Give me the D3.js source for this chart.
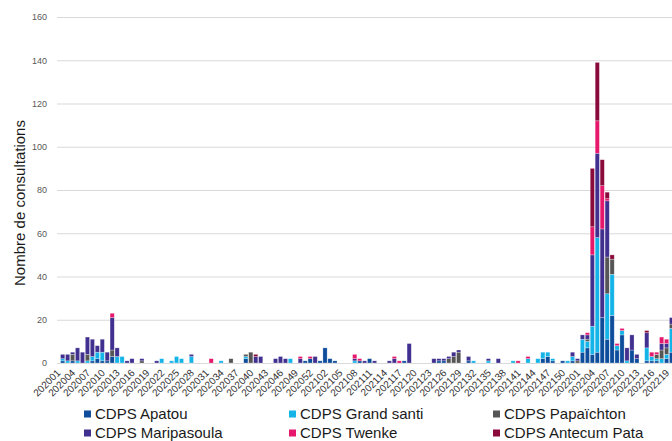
<!DOCTYPE html>
<html>
<head>
<meta charset="utf-8">
<script src="https://cdn.jsdelivr.net/npm/d3@7"></script>
<style>
body { margin: 0; background: #fff; }
svg { display: block; font-family: "Liberation Sans", Arial, sans-serif; }
</style>
</head>
<body>
<div id="chart"></div>
<script>
// weeks: 2020 has 53 ISO weeks, 2021 has 52, the picture stops at 2022 week 19
const yearWeeks = [[2020, 53], [2021, 52], [2022, 19]];
const weeks = yearWeeks.flatMap(([y, n]) => d3.range(1, n + 1).map(w => y + String(w).padStart(2, "0")));

const stations = ["CDPS Apatou", "CDPS Grand santi", "CDPS Papaïchton", "CDPS Maripasoula", "CDPS Twenke", "CDPS Antecum Pata"];
const colours = ["#0e4d9c", "#15b4e8", "#555555", "#41308f", "#e6186b", "#8a0b3b"];
const yTicks = [0, 20, 40, 60, 80, 100, 120, 140, 160];

// one value per week, rows = 2020 / 2021 / 2022
const apatou = [
  1,0,1,0,0,0,1,2,1,1, 3,0,0,0,0,0,0,0,0,0, 0,0,0,0,0,0,0,0,0,0, 0,0,0,0,0,0,0,2,0,0, 0,0,0,0,0,0,0,0,0,1, 2,0,1,
  7,2,1,0,0,0,0,1,0,2, 0,0,0,0,0,0,1,0,0,0, 0,0,0,1,1,0,0,0,0,1, 0,0,0,0,0,0,0,0,0,0, 0,0,0,0,2,3,1,0,1,0, 1,0,
  5,7,4,5,21,11,22,6,13,0, 6,2,0,1,1,1,0,2,5
];
const grandSanti = [
  1,1,0,1,0,1,2,3,4,0, 0,3,3,0,0,0,0,0,0,0, 2,0,1,3,2,0,3,0,0,0, 0,0,1,0,0,0,0,1,0,0, 0,0,0,0,0,0,2,0,0,0, 0,0,0,
  0,0,0,0,0,0,1,0,0,0, 0,0,0,0,0,0,0,0,0,0, 0,0,0,0,0,0,0,0,0,0, 1,0,0,1,0,0,0,0,1,0, 0,2,0,2,3,2,1,0,0,1, 2,0,
  6,3,13,53,0,21,19,2,2,1, 0,0,0,6,2,1,2,2,11
];
const papaichton = [
  0,0,3,0,0,3,0,0,0,0, 3,0,0,0,0,0,1,0,0,0, 0,0,0,0,0,0,0,0,0,0, 0,0,0,0,2,0,0,1,5,0, 0,0,0,0,0,0,0,0,0,0, 0,0,0,
  0,0,0,0,0,0,0,0,0,0, 0,0,0,0,0,0,0,0,0,0, 0,0,0,0,0,2,3,5,0,0, 0,0,0,0,0,0,0,0,0,0, 0,0,0,0,0,0,0,0,0,0, 0,1,
  0,1,0,0,0,17,7,0,0,0, 0,0,0,0,0,2,4,3,2
];
const maripasoula = [
  2,3,1,6,5,8,8,3,6,4, 15,4,0,1,2,0,1,0,0,1, 0,0,0,0,0,0,1,0,0,0, 0,0,0,0,0,0,0,0,0,3, 3,0,0,2,3,2,0,0,2,0, 0,3,0,
  0,0,0,0,0,0,1,0,1,0, 1,0,0,1,2,0,0,9,0,0, 0,0,2,1,1,1,2,1,0,2, 0,0,0,1,0,2,0,0,0,0, 0,0,0,0,0,0,0,0,0,0, 2,1,
  2,2,33,39,41,26,0,0,0,6, 7,2,0,7,0,0,3,2,3
];
const twenke = [
  0,0,0,0,0,0,0,0,0,0, 2,0,0,0,0,0,0,0,0,0, 0,0,0,0,0,0,0,0,0,0, 2,0,0,0,0,0,0,0,0,0, 0,0,0,0,0,0,0,0,1,0, 1,0,0,
  0,0,0,0,0,0,2,1,0,0, 0,0,0,0,1,1,0,0,0,0, 0,0,0,0,0,0,0,0,0,0, 0,0,0,0,0,0,0,0,0,1, 0,1,0,0,0,0,0,0,0,0, 0,0,
  0,1,13,15,20,1,0,1,1,0, 0,0,0,0,2,1,3,2,0
];
const antecumPata = [
  0,0,0,0,0,0,0,0,0,0, 0,0,0,0,0,0,0,0,0,0, 0,0,0,0,0,0,0,0,0,0, 0,0,0,0,0,0,0,0,0,1, 0,0,0,0,0,0,0,0,0,0, 0,0,0,
  0,0,0,0,0,0,0,0,0,0, 0,0,0,0,0,0,0,0,0,0, 0,0,0,0,0,0,0,0,0,0, 0,0,0,0,0,0,0,0,0,0, 0,0,0,0,0,0,0,0,0,0, 0,0,
  0,0,27,27,12,3,2,0,0,0, 0,0,0,1,0,0,0,0,0
];
const series = [apatou, grandSanti, papaichton, maripasoula, twenke, antecumPata];

const width = 672, height = 441;
const plotLeft = 57, plotTop = 17, plotBottom = 363, step = 4.95, firstX = 60.2;

const rows = weeks.map((w, i) => {
  const r = { week: w };
  stations.forEach((s, k) => { r[s] = series[k][i]; });
  return r;
});

const svg = d3.select("#chart").append("svg")
  .attr("width", width)
  .attr("height", height);

const x = d3.scaleBand()
  .domain(weeks)
  .range([firstX, firstX + weeks.length * step])
  .paddingInner(0.15)
  .paddingOuter(0.075);

const y = d3.scaleLinear()
  .domain([0, 160])
  .range([plotBottom, plotTop]);

const colour = d3.scaleOrdinal().domain(stations).range(colours);

// y axis with gridlines
const yAxis = svg.append("g")
  .attr("transform", "translate(" + plotLeft + ",0)")
  .call(d3.axisLeft(y).tickValues(yTicks).tickSize(-(width - plotLeft)).tickPadding(10));
yAxis.select(".domain").remove();
yAxis.selectAll(".tick line").attr("stroke", "#d9d9d9").attr("stroke-width", 1);
yAxis.selectAll(".tick text")
  .attr("fill", "#595959")
  .style("font-size", "9px")
  .style("font-family", "'Liberation Sans', Arial, sans-serif");

// stacked bars
const stacked = d3.stack().keys(stations)(rows);
svg.append("g").selectAll("g")
  .data(stacked)
  .join("g")
    .attr("fill", d => colour(d.key))
  .selectAll("rect")
  .data(d => d.filter(p => p[1] - p[0] > 0))
  .join("rect")
    .attr("x", p => x(p.data.week))
    .attr("y", p => y(p[1]))
    .attr("width", x.bandwidth())
    .attr("height", p => y(p[0]) - y(p[1]))
    .attr("stroke", "rgba(255,255,255,0.45)")
    .attr("stroke-width", 0.6);

// x axis: every third week label, rotated
const xAxis = svg.append("g")
  .attr("transform", "translate(0," + plotBottom + ")")
  .call(d3.axisBottom(x).tickValues(weeks.filter((d, i) => i % 3 === 0)).tickSize(0).tickPadding(0));
xAxis.select(".domain").remove();
xAxis.selectAll(".tick text")
  .attr("fill", "#333")
  .style("font-size", "10px")
  .style("font-family", "'Liberation Sans', Arial, sans-serif")
  .attr("text-anchor", "end")
  .attr("y", 0)
  .attr("dy", "0.35em")
  .attr("transform", "translate(-4,8) rotate(-45)");

// y title
svg.append("text")
  .attr("transform", "translate(20,203) rotate(-90)")
  .attr("text-anchor", "middle")
  .attr("dy", "0.35em")
  .attr("fill", "#1a1a1a")
  .style("font-size", "15px")
  .text("Nombre de consultations");

// legend, 3 columns x 2 rows
const legX = [84, 289, 493], legY = [414, 433];
const leg = svg.append("g").selectAll("g")
  .data(stations)
  .join("g")
    .attr("transform", (d, i) => "translate(" + legX[i % 3] + "," + legY[Math.floor(i / 3)] + ")");
leg.append("rect")
  .attr("x", 0).attr("y", -3.5)
  .attr("width", 7).attr("height", 7)
  .attr("fill", d => colour(d));
leg.append("text")
  .attr("x", 11)
  .attr("dy", "0.35em")
  .attr("fill", "#1a1a1a")
  .style("font-size", "15px")
  .text(d => d);
</script>
</body>
</html>
